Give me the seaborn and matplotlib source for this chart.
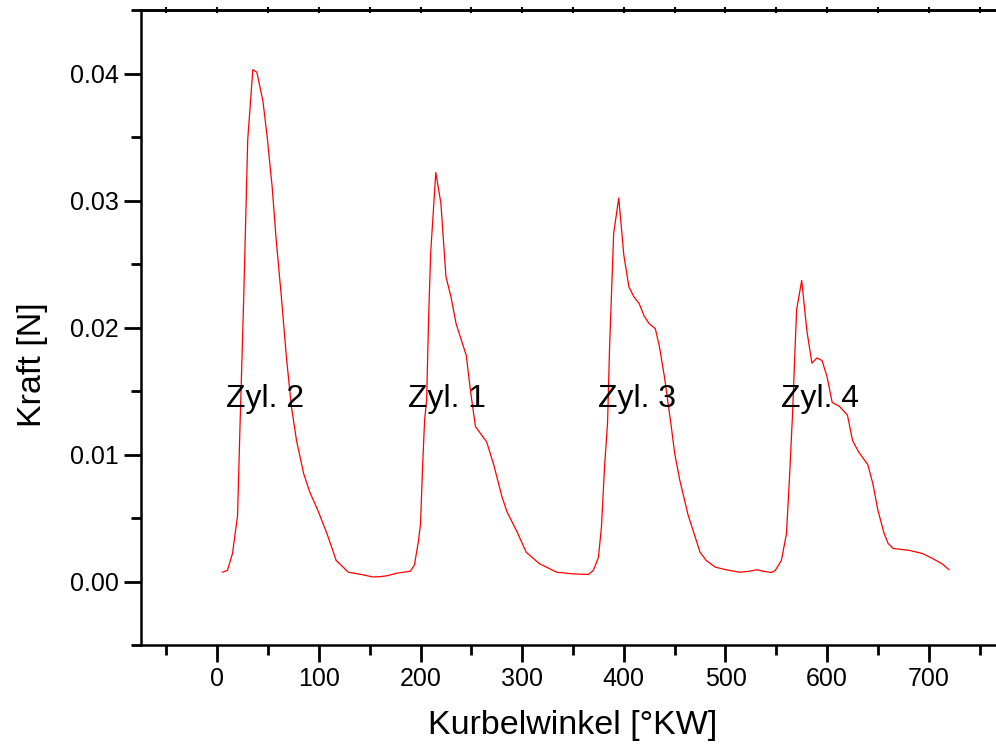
import numpy as np
import pandas as pd
import matplotlib
matplotlib.use("Agg")
import matplotlib.pyplot as plt
from matplotlib.ticker import MultipleLocator, FormatStrFormatter
import seaborn as sns

# Crank angle [°KW] and force [N]
angle = [5, 10, 15, 20, 22, 26, 30, 35, 39, 45, 49, 54, 58, 63, 68, 73, 78, 85, 91, 99,
         108, 117, 129, 142, 153, 160, 167, 177, 186, 190, 194, 198, 200, 202, 204, 206,
         208, 210, 215, 220, 225, 230, 235, 245, 249, 254, 265, 272, 280, 285, 295, 304,
         317, 334, 350, 365, 370, 375, 378, 381, 384, 386, 390, 395, 400, 405, 410, 415,
         420, 425, 431, 435, 440, 447, 450, 455, 463, 475, 481, 490, 501, 514, 522, 531,
         537, 545, 549, 555, 560, 563, 566, 568, 570, 575, 580, 585, 590, 595, 600, 605,
         612, 620, 625, 631, 640, 645, 650, 656, 660, 665, 681, 694, 704, 713, 720]
force = [0.00073, 0.00087, 0.0022, 0.0052, 0.0111, 0.0222, 0.0348, 0.0403, 0.0401, 0.0378,
         0.0351, 0.0311, 0.0269, 0.0225, 0.0177, 0.01375, 0.0111, 0.0085, 0.00705, 0.0056,
         0.00376, 0.00166, 0.00073, 0.00055, 0.00036, 0.00038, 0.00045, 0.00066, 0.00076,
         0.00081, 0.0013, 0.0032, 0.00455, 0.009, 0.0127, 0.0143, 0.0209, 0.0259, 0.0322,
         0.0298, 0.0240, 0.0224, 0.0203, 0.0178, 0.0151, 0.0122, 0.0110, 0.0092, 0.0067,
         0.0055, 0.0039, 0.0023, 0.0014, 0.00073, 0.0006, 0.00055, 0.00087, 0.0019, 0.0043,
         0.009, 0.0125, 0.0185, 0.0274, 0.0302, 0.0257, 0.0232, 0.0224, 0.0219, 0.0209,
         0.0203, 0.0199, 0.0185, 0.0161, 0.0120, 0.0101, 0.008, 0.0053, 0.0023, 0.00166,
         0.00113, 0.00092, 0.00073, 0.00079, 0.00092, 0.00081, 0.00071, 0.00087, 0.00166,
         0.00376, 0.0082, 0.0132, 0.0174, 0.0214, 0.0237, 0.0198, 0.0172, 0.0176, 0.0174,
         0.0161, 0.0141, 0.0138, 0.0131, 0.0111, 0.0102, 0.0092, 0.0077, 0.0056, 0.0038,
         0.0030, 0.0026, 0.00245, 0.0022, 0.0018, 0.0014, 0.00092]

cyl_labels = ["Zyl. 2", "Zyl. 1", "Zyl. 3", "Zyl. 4"]
cyl_x = [47, 226, 413, 593]
cyl_y = [0.0144, 0.0144, 0.0144, 0.0144]

sns.set_style("ticks")
plt.rcParams["font.family"] = ["Liberation Sans", "DejaVu Sans"]

fig = plt.figure(figsize=(9.96, 7.49), dpi=100)
ax = fig.add_axes([141 / 996, 104 / 749, 864 / 996, 635 / 749])

df = pd.DataFrame({"angle": angle, "force": force})
sns.lineplot(data=df, x="angle", y="force", color="red", linewidth=0.9,
             sort=False, estimator=None, ax=ax)

for lab, x, y in zip(cyl_labels, cyl_x, cyl_y):
    ax.text(x, y, lab, ha="center", va="center", fontsize=23, color="black")

ax.set_xlim(-75, 775)
ax.set_ylim(-0.005, 0.045)

ax.xaxis.set_major_locator(MultipleLocator(100))
ax.xaxis.set_minor_locator(MultipleLocator(50))
ax.yaxis.set_major_locator(MultipleLocator(0.01))
ax.yaxis.set_minor_locator(MultipleLocator(0.005))
ax.yaxis.set_major_formatter(FormatStrFormatter("%.2f"))
ax.set_xticks([0, 100, 200, 300, 400, 500, 600, 700])

ax.tick_params(axis="both", which="major", direction="out", length=12, width=2,
               labelsize=18, color="black", labelcolor="black")
ax.tick_params(axis="y", which="major", pad=4)
ax.tick_params(axis="both", which="minor", direction="out", length=7, width=2,
               color="black")

for side in ["left", "bottom", "top"]:
    ax.spines[side].set_visible(True)
    ax.spines[side].set_linewidth(1.8)
    ax.spines[side].set_color("black")
ax.spines["right"].set_visible(False)

sec = ax.secondary_xaxis("top")
sec.set_xticks(np.arange(-50, 800, 50))
sec.set_xticklabels([])
sec.tick_params(direction="inout", length=4, width=1.5, color="black")
sec.spines["top"].set_linewidth(1.8)
sec.spines["top"].set_color("black")

ax.set_xlabel("Kurbelwinkel [°KW]", fontsize=24.5, color="black")
ax.set_ylabel("Kraft [N]", fontsize=24.5, color="black")
ax.xaxis.set_label_coords(0.5, -0.103)
ax.yaxis.set_label_coords(-0.108, 0.441)

fig.savefig("out.png", dpi=100)
